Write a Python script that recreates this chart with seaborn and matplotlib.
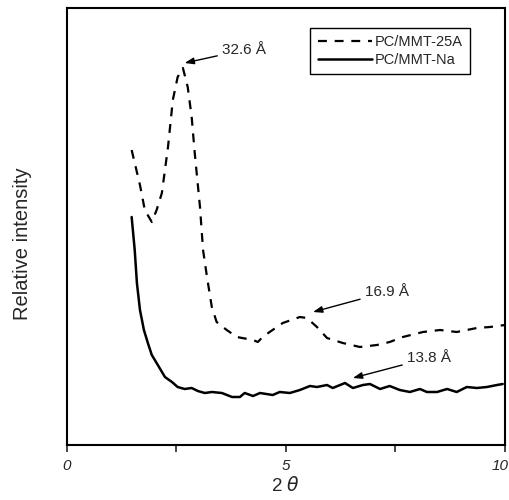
import numpy as np
import pandas as pd
import matplotlib
matplotlib.use("Agg")
import matplotlib.pyplot as plt
import matplotlib.transforms as mtransforms
import seaborn as sns

theta_25a = [1.48, 1.67, 1.78, 1.94, 2.05, 2.17, 2.31, 2.42, 2.53, 2.65, 2.76, 2.85,
             2.92, 3.04, 3.11, 3.20, 3.31, 3.42, 3.65, 3.88, 4.25, 4.36, 4.47, 4.63,
             4.93, 5.32, 5.48, 5.71, 5.94, 6.30, 6.69, 7.08, 7.37, 7.67, 8.13, 8.52,
             8.90, 9.36, 9.66, 10.0]
int_25a = [295, 260, 235, 223, 235, 252, 298, 345, 368, 377, 358, 328,
           292, 238, 195, 168, 138, 123, 115, 108, 105, 103, 108, 113,
           122, 128, 127, 118, 107, 102, 98, 100, 103, 108, 113, 115,
           113, 117, 118, 120]

theta_na = [1.48, 1.55, 1.60, 1.67, 1.76, 1.85, 1.94, 2.05, 2.24, 2.40, 2.53, 2.69,
            2.85, 2.99, 3.15, 3.31, 3.54, 3.77, 3.95, 4.06, 4.25, 4.41, 4.70, 4.86,
            5.09, 5.32, 5.55, 5.71, 5.94, 6.07, 6.35, 6.53, 6.76, 6.92, 7.15, 7.37,
            7.60, 7.83, 8.06, 8.22, 8.45, 8.68, 8.90, 9.13, 9.36, 9.59, 9.82, 9.95]
int_na = [228, 195, 162, 135, 115, 102, 90, 82, 68, 63, 58, 56,
          57, 54, 52, 53, 52, 48, 48, 52, 49, 52, 50, 53,
          52, 55, 59, 58, 60, 57, 62, 57, 60, 61, 56, 59,
          55, 53, 56, 53, 53, 56, 53, 58, 57, 58, 60, 61]

series_labels = ["PC/MMT-25A", "PC/MMT-Na"]

# Annotations des distances basales : texte, position du texte, pointe de la flèche
pic_textes = ["32.6 Å", "16.9 Å", "13.8 Å"]
pic_texte_xy = [(3.54, 395), (6.80, 153), (7.76, 87)]
pic_pointe_xy = [(2.69, 382), (5.62, 133), (6.53, 67)]

sns.set_style("ticks")
plt.rcParams['font.family'] = ['Liberation Sans', 'DejaVu Sans']

fig = plt.figure(figsize=(5.1, 5.0), dpi=100)
ax = fig.add_axes([0.131, 0.11, 0.859, 0.874])

df_25a = pd.DataFrame({"theta": theta_25a, "intensite": int_25a})
df_na = pd.DataFrame({"theta": theta_na, "intensite": int_na})

sns.lineplot(data=df_25a, x="theta", y="intensite", ax=ax, color="black",
             linewidth=1.6, linestyle=(0, (4, 3.5)), label=series_labels[0])
sns.lineplot(data=df_na, x="theta", y="intensite", ax=ax, color="black",
             linewidth=1.8, label=series_labels[1])

for txt, xy_t, xy_p in zip(pic_textes, pic_texte_xy, pic_pointe_xy):
    ax.annotate(txt, xy=xy_p, xytext=xy_t, fontsize=11, va="center", ha="left",
                arrowprops=dict(arrowstyle="-|>,head_length=0.5,head_width=0.18",
                                color="black", lw=1.0, shrinkA=1, shrinkB=0))

ax.set_xlim(0, 10)
ax.set_ylim(0, 437)
ax.set_xticks([0, 5, 10])
ax.set_xticks([2.5, 7.5], minor=True)
ax.set_yticks([])
ax.tick_params(axis="x", which="both", direction="out", length=5, width=1.2,
               labelsize=11, pad=5)
labels = ax.get_xticklabels()
for lab in labels:
    lab.set_fontstyle("italic")
# le "10" est collé au bord droit comme dans l'original
labels[-1].set_horizontalalignment("right")
labels[-1].set_transform(labels[-1].get_transform() +
                         mtransforms.ScaledTranslation(0.04, 0, fig.dpi_scale_trans))

for sp in ax.spines.values():
    sp.set_color("black")
    sp.set_linewidth(1.5)

ax.set_xlabel(r"2 $\theta$", fontsize=13.5, labelpad=2)
ax.set_ylabel("Relative intensity", fontsize=14.5)
ax.yaxis.set_label_coords(-0.08, 0.46)

leg = ax.legend(loc="upper right", bbox_to_anchor=(0.92, 0.954), borderaxespad=0,
                fancybox=False, edgecolor="black", framealpha=1, fontsize=10.5,
                handlelength=3.7, handletextpad=0.2, borderpad=0.5, labelspacing=0.25)
leg.get_frame().set_linewidth(1.0)

fig.savefig("out.png", dpi=100)
